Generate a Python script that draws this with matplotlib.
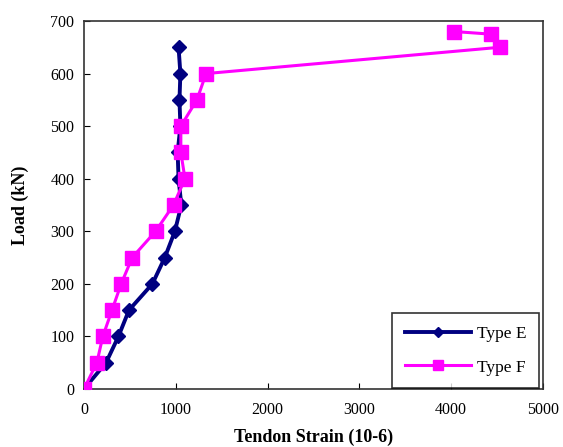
import matplotlib
matplotlib.use("Agg")
import matplotlib.pyplot as plt

plt.rcParams['font.family'] = ['Liberation Serif', 'DejaVu Serif']

# Type E (navy diamonds)
load_e = [0, 50, 100, 150, 200, 250, 300, 350, 400, 450, 500, 550, 600, 650]
strain_e = [0, 240, 375, 490, 745, 880, 990, 1060, 1030, 1020, 1050, 1040, 1050, 1030]

# Type F (magenta squares)
load_f = [0, 50, 100, 150, 200, 250, 300, 350, 400, 450, 500, 550, 600, 650, 675, 680]
strain_f = [0, 140, 205, 305, 405, 525, 780, 975, 1100, 1055, 1055, 1230, 1330, 4530, 4430, 4030]

W, H = 563, 447
fig = plt.figure(figsize=(W / 100, H / 100), dpi=100)
ax = fig.add_axes([84 / W, (H - 389) / H, (543 - 84) / W, (389 - 21) / H])

ax.plot(strain_e, load_e, color='#000080', marker='D', markersize=7.5, linewidth=2.8,
        label='Type E', zorder=2)
ax.plot(strain_f, load_f, color='#FF00FF', marker='s', markersize=10.5, linewidth=2.2,
        label='Type F', zorder=3)

ax.set_xlim(0, 5000)
ax.set_ylim(0, 700)
ax.set_xticks(range(0, 5001, 1000))
ax.set_yticks(range(0, 701, 100))
ax.tick_params(direction='in', labelsize=11.5, length=4)
ax.tick_params(axis='x', pad=9)
ax.tick_params(axis='y', pad=7)
for s in ax.spines.values():
    s.set_color('#333333')
    s.set_linewidth(1.2)

ax.set_xlabel('Tendon Strain (10-6)', fontsize=13, fontweight='bold', labelpad=8)
ax.set_ylabel('Load (kN)', fontsize=13, fontweight='bold', labelpad=15)

leg = ax.legend(loc='lower right', bbox_to_anchor=(539 / W, (H - 388) / H),
                bbox_transform=fig.transFigure, borderaxespad=0, frameon=True,
                fancybox=False, edgecolor='black', fontsize=12.5, handlelength=3.8,
                labelspacing=1.0, borderpad=0.72, handletextpad=0.35, markerscale=0.65)
leg.get_frame().set_linewidth(1.2)
leg.set_zorder(5)

fig.savefig('out.png', dpi=100)
